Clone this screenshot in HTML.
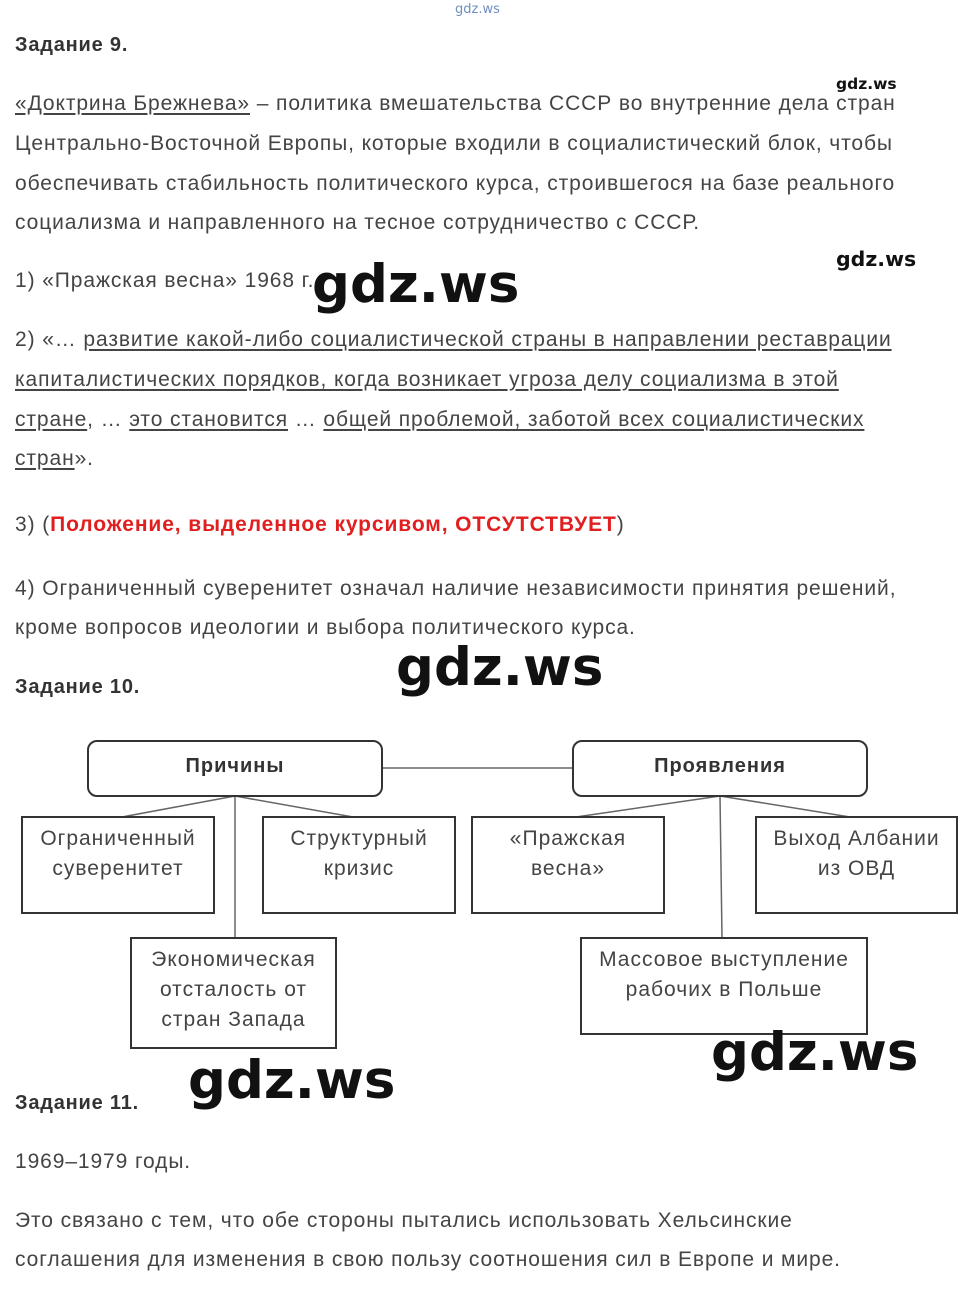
<!DOCTYPE html>
<html><head><meta charset="utf-8">
<style>
body{margin:0;width:966px;height:1292px;background:#fff;position:relative;overflow:hidden;font-family:"Liberation Sans",sans-serif;color:#444}
.t{position:absolute;left:15px;font-size:21px;letter-spacing:0.9px;white-space:nowrap;line-height:24px}
.b{font-weight:bold;font-size:20px;letter-spacing:0.8px;color:#333}
u{text-decoration:underline;text-underline-offset:3px}
.w{position:absolute;font-weight:bold;color:#111;white-space:nowrap;font-family:"DejaVu Sans","Liberation Sans",sans-serif}
.bx{position:absolute;font-size:21px;letter-spacing:1px;text-align:center;line-height:30px;color:#444}
</style></head><body>
<div class="w" style="left:455px;top:2px;font-size:13px;color:#6f8fc0;font-weight:normal">gdz.ws</div>
<div class="t b" style="top:33px">Задание 9.</div>
<div class="w" style="left:836px;top:75px;font-size:15.5px">gdz.ws</div>
<div class="t" style="top:92px"><u>«Доктрина Брежнева»</u> – политика вмешательства СССР во внутренние дела стран</div>
<div class="t" style="top:132px">Центрально-Восточной Европы, которые входили в социалистический блок, чтобы</div>
<div class="t" style="top:172px">обеспечивать стабильность политического курса, строившегося на базе реального</div>
<div class="t" style="top:211px">социализма и направленного на тесное сотрудничество с СССР.</div>
<div class="t" style="top:269px">1) «Пражская весна» 1968 г.</div>
<div class="w" style="left:836px;top:247px;font-size:20.5px">gdz.ws</div>
<div class="w" style="left:312px;top:254px;font-size:53px">gdz.ws</div>
<div class="t" style="top:328px">2) «… <u>развитие какой-либо социалистической страны в направлении реставрации</u></div>
<div class="t" style="top:368px"><u>капиталистических порядков, когда возникает угроза делу социализма в этой</u></div>
<div class="t" style="top:408px"><u>стране</u>, … <u>это становится</u> … <u>общей проблемой, заботой всех социалистических</u></div>
<div class="t" style="top:447px"><u>стран</u>».</div>
<div class="t" style="top:513px">3) (<b style="color:#e02020">Положение, выделенное курсивом, ОТСУТСТВУЕТ</b>)</div>
<div class="t" style="top:577px">4) Ограниченный суверенитет означал наличие независимости принятия решений,</div>
<div class="t" style="top:616px">кроме вопросов идеологии и выбора политического курса.</div>
<div class="t b" style="top:675px">Задание 10.</div>
<div class="w" style="left:396px;top:637px;font-size:53px">gdz.ws</div>
<svg style="position:absolute;left:0;top:0" width="966" height="1292">
<g stroke="#666" stroke-width="1.5" fill="none">
<line x1="382" y1="768" x2="573" y2="768"/>
<line x1="235" y1="796" x2="122" y2="817"/><line x1="235" y1="796" x2="235" y2="938"/><line x1="235" y1="796" x2="353" y2="817"/>
<line x1="720" y1="796" x2="576" y2="817"/><line x1="720" y1="796" x2="722" y2="938"/><line x1="720" y1="796" x2="850" y2="817"/>
</g>
<g stroke="#333" stroke-width="2" fill="#fff">
<rect x="88" y="741" width="294" height="55" rx="9"/><rect x="573" y="741" width="294" height="55" rx="9"/>
<rect x="22" y="817" width="192" height="96"/><rect x="263" y="817" width="192" height="96"/>
<rect x="472" y="817" width="192" height="96"/><rect x="756" y="817" width="201" height="96"/>
<rect x="131" y="938" width="205" height="110"/><rect x="581" y="938" width="286" height="96"/>
</g></svg>
<div class="bx" style="left:88px;top:751px;width:294px;font-weight:bold;color:#333;font-size:20px">Причины</div>
<div class="bx" style="left:573px;top:751px;width:294px;font-weight:bold;color:#333;font-size:20px">Проявления</div>
<div class="bx" style="left:22px;top:824px;width:192px">Ограниченный<br>суверенитет</div>
<div class="bx" style="left:263px;top:824px;width:192px">Структурный<br>кризис</div>
<div class="bx" style="left:472px;top:824px;width:192px">«Пражская<br>весна»</div>
<div class="bx" style="left:756px;top:824px;width:201px">Выход Албании<br>из ОВД</div>
<div class="bx" style="left:131px;top:945px;width:205px">Экономическая<br>отсталость от<br>стран Запада</div>
<div class="bx" style="left:581px;top:945px;width:286px">Массовое выступление<br>рабочих в Польше</div>
<div class="w" style="left:711px;top:1022px;font-size:53px">gdz.ws</div>
<div class="w" style="left:188px;top:1050px;font-size:53px">gdz.ws</div>
<div class="t b" style="top:1091px">Задание 11.</div>
<div class="t" style="top:1150px">1969–1979 годы.</div>
<div class="t" style="top:1209px">Это связано с тем, что обе стороны пытались использовать Хельсинские</div>
<div class="t" style="top:1248px">соглашения для изменения в свою пользу соотношения сил в Европе и мире.</div>
</body></html>
